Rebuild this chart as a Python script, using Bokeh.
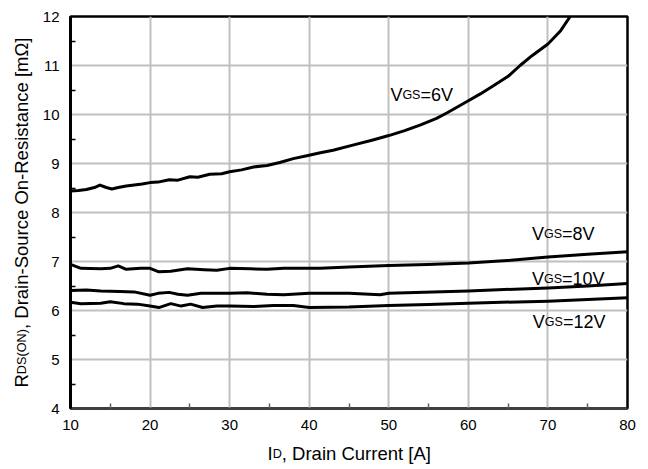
import math
from bokeh.plotting import figure
from bokeh.layouts import column, row
from bokeh.models import FixedTicker, Label
from bokeh.embed import file_html
from bokeh.resources import INLINE

# ---------------- data ----------------
x_6v = [10, 11, 12, 13, 13.7, 14.5, 15.2, 16, 17, 18, 19, 20, 21, 22.4, 23.5, 25, 26, 27.5, 29, 30,
        31.5, 33, 34.7, 36.3, 38, 39.7, 41.4, 43, 45.6, 48, 50, 52, 54, 56, 57.4, 60, 61.5, 63.2, 65, 66.5,
        68, 70, 71.6, 72.8]
r_6v = [8.44, 8.45, 8.47, 8.51, 8.56, 8.51, 8.48, 8.51, 8.54, 8.56, 8.58, 8.61, 8.62, 8.67, 8.66, 8.73, 8.72, 8.78, 8.79, 8.83,
        8.87, 8.93, 8.96, 9.02, 9.10, 9.16, 9.22, 9.27, 9.38, 9.48, 9.57, 9.67, 9.79, 9.92, 10.04, 10.28, 10.42, 10.59, 10.78, 11.0,
        11.2, 11.44, 11.71, 12.0]

x_8v = [10, 11.3, 13.8, 15, 16, 17, 18.8, 20, 21.1, 22.6, 24.7, 26.8, 28.4, 30, 32.6, 34.7, 36.8, 40,
        41.4, 45, 50, 54.9, 60, 64.9, 70, 75, 80]
r_8v = [6.94, 6.86, 6.85, 6.86, 6.91, 6.84, 6.86, 6.86, 6.79, 6.80, 6.85, 6.83, 6.82, 6.86, 6.85, 6.84, 6.86, 6.86,
        6.86, 6.89, 6.92, 6.94, 6.97, 7.02, 7.09, 7.15, 7.20]

x_10v = [10, 12, 13.8, 16.2, 18, 20, 21, 22.4, 23.5, 24.7, 26.4, 30, 32.2, 34.7, 36.8, 40,
         45, 48.9, 50, 60, 70, 75, 80]
r_10v = [6.41, 6.42, 6.40, 6.39, 6.38, 6.31, 6.35, 6.37, 6.33, 6.31, 6.35, 6.35, 6.36, 6.33, 6.32, 6.35,
         6.35, 6.32, 6.35, 6.40, 6.46, 6.50, 6.55]

x_12v = [10, 11.3, 13.8, 15, 16.7, 18.4, 20, 21.1, 22.6, 23.9, 25.1, 26.6, 28.4, 30, 33, 35.5, 38, 40,
         45, 50, 55, 60, 70, 80]
r_12v = [6.17, 6.14, 6.15, 6.18, 6.14, 6.13, 6.09, 6.06, 6.14, 6.09, 6.13, 6.06, 6.09, 6.09, 6.08, 6.10, 6.10, 6.06,
         6.07, 6.10, 6.12, 6.15, 6.19, 6.26]

series_names = ["6V", "8V", "10V", "12V"]
label_x = [50.2, 68.0, 68.0, 68.1]
label_y = [10.40, 7.56, 6.64, 5.76]

x_ticks = [10, 20, 30, 40, 50, 60, 70, 80]
x_minor = [15, 25, 35, 45, 55, 65, 75]
y_ticks = [4, 5, 6, 7, 8, 9, 10, 11, 12]
y_minor = [4.5, 5.5, 6.5, 7.5, 8.5, 9.5, 10.5, 11.5]

x_title = [("I", 18.5), ("D", 12.7), (", Drain Current [A]", 18.5)]
y_title = [("R", 18.5), ("DS(ON)", 12.7), (", Drain-Source On-Resistance [mΩ]", 18.5)]

FONT = "Liberation Sans"
MAIN = 18
SUB = 12.5

# Arial / Liberation Sans advance widths (per 1000 em)
W = {"V": 667, "G": 778, "S": 667, "=": 584, "I": 278, "D": 722, ",": 278, " ": 278, "r": 333,
     "a": 556, "i": 222, "n": 556, "-": 333, "o": 556, "u": 556, "c": 500, "e": 556, "O": 778,
     "R": 722, "s": 500, "t": 278, "C": 722, "[": 278, "]": 278, "A": 667, "m": 833, "Ω": 768,
     "(": 333, ")": 333, "N": 722}
for d in "0123456789":
    W[d] = 556


def tw(s, size):
    return sum(W.get(ch, 556) for ch in s) * size / 1000.0


def rich_label(fig, parts, x, y, units, angle=0.0, step=1.0):
    off = 0.0
    for text, size in parts:
        kw = dict(text=text, text_font=FONT, text_font_size=f"{size}px", text_color="black",
                  text_align="left", text_baseline="alphabetic", x_units=units, y_units=units)
        if angle == 0:
            fig.add_layout(Label(x=x, y=y, x_offset=off, **kw))
        else:
            fig.add_layout(Label(x=x, y=y + off * step, angle=angle, **kw))
        off += tw(text, size)


# ---------------- main plot ----------------
p = figure(width=614, height=440, x_range=(10, 80), y_range=(4, 12),
           output_backend="svg", toolbar_location=None,
           min_border_left=36, min_border_right=21, min_border_top=16, min_border_bottom=32)
p.outline_line_color = "black"
p.outline_line_width = 2.5
p.background_fill_color = "white"
p.border_fill_color = "white"

p.xgrid.ticker = FixedTicker(ticks=x_ticks[1:-1])
p.ygrid.ticker = FixedTicker(ticks=y_ticks[1:-1])
for g in (p.xgrid, p.ygrid):
    g.grid_line_color = "#c0c0c0"
    g.grid_line_width = 2

xa = p.xaxis[0]
ya = p.yaxis[0]
xa.ticker = FixedTicker(ticks=x_ticks, minor_ticks=x_minor)
ya.ticker = FixedTicker(ticks=y_ticks, minor_ticks=y_minor)
for ax in (xa, ya):
    ax.major_label_text_font = FONT
    ax.major_label_text_font_size = "15px"
    ax.major_label_text_color = "black"
    ax.major_tick_in = 0
    ax.major_tick_out = 0
    ax.minor_tick_in = 5
    ax.minor_tick_out = 0
    ax.major_label_standoff = 11
xa.axis_line_color = "#404040"
xa.axis_line_width = 2
xa.minor_tick_line_color = "#606060"
xa.minor_tick_line_width = 1.5
ya.axis_line_color = "black"
ya.axis_line_width = 3
ya.minor_tick_line_color = "black"
ya.minor_tick_line_width = 1.5

for xs, ys in ((x_6v, r_6v), (x_8v, r_8v), (x_10v, r_10v), (x_12v, r_12v)):
    p.line(xs, ys, line_color="black", line_width=3, line_join="round")

for name, lx, ly in zip(series_names, label_x, label_y):
    rich_label(p, [("V", MAIN), ("GS", SUB), ("=" + name, MAIN)], lx, ly, "data")


# ---------------- title strips ----------------
def strip(w, h, top=0, bottom=0):
    f = figure(width=w, height=h, x_range=(0, 1), y_range=(0, 1), output_backend="svg",
               toolbar_location=None, x_axis_type=None, y_axis_type=None, title=None,
               min_border_left=0, min_border_right=0, min_border_top=top, min_border_bottom=bottom)
    f.outline_line_color = None
    f.background_fill_color = "white"
    f.border_fill_color = "white"
    return f


ystrip = strip(34, 440, top=16, bottom=32)
rich_label(ystrip, y_title, 21, 21, "screen", angle=math.pi / 2)

xstrip = strip(648, 29)
rich_label(xstrip, x_title, 267, 16, "screen")

layout = column(row(ystrip, p, spacing=0), xstrip, spacing=0)

open("out.html", "w").write(file_html(layout, INLINE))
